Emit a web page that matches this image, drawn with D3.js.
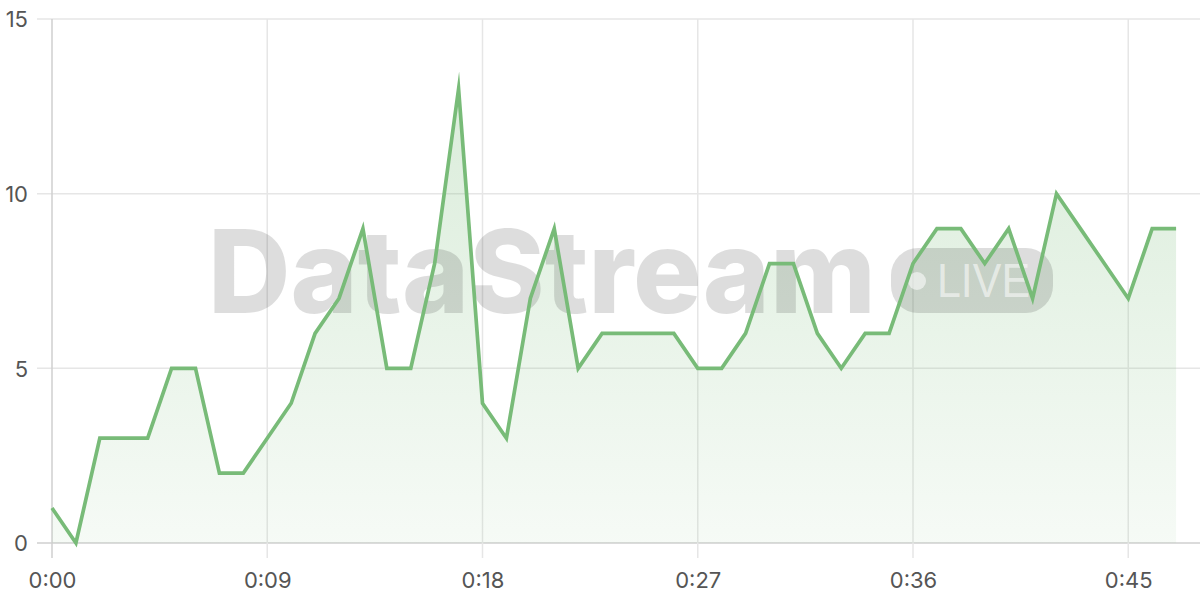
<!DOCTYPE html>
<html>
<head>
<meta charset="utf-8">
<script src="https://cdn.jsdelivr.net/npm/d3@7"></script>
<style>
  html, body { margin: 0; padding: 0; background: #fff; }
  svg { display: block; }
</style>
</head>
<body>
<svg id="chart" width="1200" height="600"></svg>
<script>
// Data: seconds elapsed and values
const seconds = [0,1,2,3,4,5,6,7,8,9,10,11,12,13,14,15,16,17,18,19,20,21,22,23,24,25,26,27,28,29,30,31,32,33,34,35,36,37,38,39,40,41,42,43,44,45,46,47];
const values  = [1,0,3,3,3,5,5,2,2,3,4,6,7,9,5,5,8,13,4,3,7,9,5,6,6,6,6,5,5,6,8,8,6,5,6,6,8,9,9,8,9,7,10,9,8,7,9,9];
const xTicks = [0,9,18,27,36,45];
const yTicks = [0,5,10,15];
const watermarkText = "DataStream";
const badgeText = "LIVE";

const svg = d3.select("#chart");
const W = 1200, H = 600;
const margin = {left: 52, right: 0, top: 19, bottom: 57};

const x = d3.scaleLinear().domain([0, 48]).range([margin.left, W - margin.right]);
const y = d3.scaleLinear().domain([0, 15]).range([H - margin.bottom, margin.top]);

const fmt = s => Math.floor(s / 60) + ":" + String(s % 60).padStart(2, "0");

const defs = svg.append("defs");
const grad = defs.append("linearGradient").attr("id", "areaGrad")
  .attr("x1", 0).attr("x2", 0)
  .attr("gradientUnits", "userSpaceOnUse")
  .attr("y1", y(13)).attr("y2", y(0));
grad.append("stop").attr("offset", "0%").attr("stop-color", "#7cbd7c").attr("stop-opacity", 0.28);
grad.append("stop").attr("offset", "100%").attr("stop-color", "#7cbd7c").attr("stop-opacity", 0.07);

// Horizontal grid
svg.append("g").selectAll("line").data(yTicks).join("line")
  .attr("x1", margin.left - 15).attr("x2", W)
  .attr("y1", d => y(d)).attr("y2", d => y(d))
  .attr("stroke", d => d === 0 ? "#cfcfcf" : "#e6e6e6").attr("stroke-width", 1.5);

// Vertical grid
svg.append("g").selectAll("line").data(xTicks).join("line")
  .attr("x1", d => x(d)).attr("x2", d => x(d))
  .attr("y1", margin.top).attr("y2", y(0) + 15)
  .attr("stroke", d => d === 0 ? "#cfcfcf" : "#e6e6e6").attr("stroke-width", 1.5);

// Area
const area = d3.area().x((d, i) => x(seconds[i])).y0(y(0)).y1(d => y(d));
svg.append("path").datum(values).attr("d", area).attr("fill", "url(#areaGrad)");

// Watermark
const wm = svg.append("g");
wm.append("text").text(watermarkText)
  .attr("x", 208).attr("y", 313)
  .attr("font-family", "Inter, Liberation Sans, sans-serif")
  .attr("font-weight", 800).attr("font-size", 115)
  .attr("textLength", 668).attr("lengthAdjust", "spacingAndGlyphs")
  .attr("fill", "#000").attr("fill-opacity", 0.135);
wm.append("rect").attr("x", 891).attr("y", 248).attr("width", 162).attr("height", 65)
  .attr("rx", 27).attr("fill", "#000").attr("fill-opacity", 0.135);
wm.append("circle").attr("cx", 917).attr("cy", 281).attr("r", 9)
  .attr("fill", "#fff").attr("fill-opacity", 0.55);
wm.append("text").text(badgeText)
  .attr("x", 937).attr("y", 297)
  .attr("font-family", "Liberation Sans, Arial, sans-serif")
  .attr("font-size", 48)
  .attr("textLength", 93).attr("lengthAdjust", "spacingAndGlyphs")
  .attr("fill", "#fff").attr("fill-opacity", 0.55);

// Line
const line = d3.line().x((d, i) => x(seconds[i])).y(d => y(d));
svg.append("path").datum(values).attr("d", line)
  .attr("fill", "none").attr("stroke", "#78bb78").attr("stroke-width", 3.7)
  .attr("stroke-linejoin", "miter").attr("stroke-miterlimit", 10);

// Axes labels
const yAxis = d3.axisLeft(y).tickValues(yTicks).tickSize(0).tickPadding(0);
const gy = svg.append("g").attr("transform", `translate(28,0)`).call(yAxis);
gy.select(".domain").remove();
gy.selectAll("text").attr("font-family", "Inter, sans-serif").attr("font-size", 22)
  .attr("fill", "#555").attr("dy", "0.35em");

const xAxis = d3.axisBottom(x).tickValues(xTicks).tickFormat(fmt).tickSize(0).tickPadding(0);
const gx = svg.append("g").attr("transform", `translate(0,${y(0) + 37})`).call(xAxis);
gx.select(".domain").remove();
gx.selectAll("text").attr("font-family", "Inter, sans-serif").attr("font-size", 22)
  .attr("fill", "#555").attr("dy", "0.35em");
</script>
</body>
</html>
